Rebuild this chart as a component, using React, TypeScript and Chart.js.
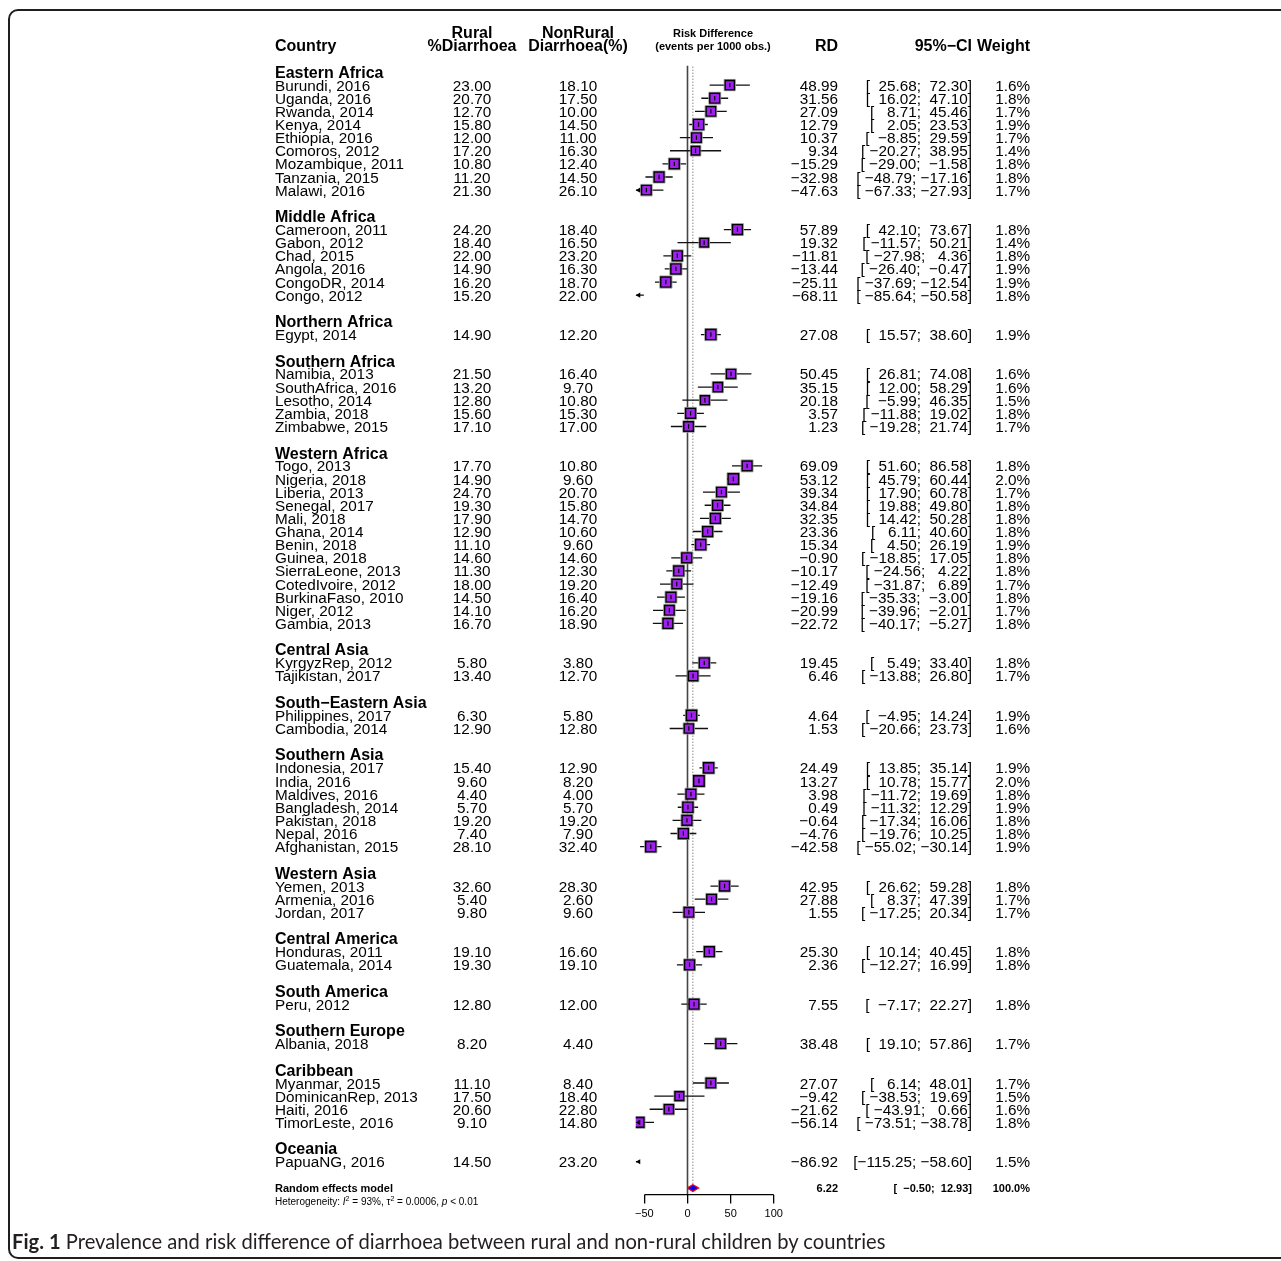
import React, { useEffect, useRef } from "react";
import { Chart, registerables } from "chart.js";

Chart.register(...registerables);

// ---------------- data ----------------
const groupNames = [
  "Eastern Africa", "Middle Africa", "Northern Africa", "Southern Africa", "Western Africa",
  "Central Asia", "South\u2212Eastern Asia", "Southern Asia", "Western Asia", "Central America",
  "South America", "Southern Europe", "Caribbean", "Oceania",
];
const groupSizes = [9, 6, 1, 5, 13, 2, 2, 7, 3, 2, 1, 1, 4, 1];

const studyLabels = [
  "Burundi, 2016", "Uganda, 2016", "Rwanda, 2014", "Kenya, 2014", "Ethiopia, 2016", "Comoros, 2012", "Mozambique, 2011", "Tanzania, 2015", "Malawi, 2016",
  "Cameroon, 2011", "Gabon, 2012", "Chad, 2015", "Angola, 2016", "CongoDR, 2014", "Congo, 2012",
  "Egypt, 2014",
  "Namibia, 2013", "SouthAfrica, 2016", "Lesotho, 2014", "Zambia, 2018", "Zimbabwe, 2015",
  "Togo, 2013", "Nigeria, 2018", "Liberia, 2013", "Senegal, 2017", "Mali, 2018", "Ghana, 2014", "Benin, 2018", "Guinea, 2018", "SierraLeone, 2013", "CotedIvoire, 2012", "BurkinaFaso, 2010", "Niger, 2012", "Gambia, 2013",
  "KyrgyzRep, 2012", "Tajikistan, 2017",
  "Philippines, 2017", "Cambodia, 2014",
  "Indonesia, 2017", "India, 2016", "Maldives, 2016", "Bangladesh, 2014", "Pakistan, 2018", "Nepal, 2016", "Afghanistan, 2015",
  "Yemen, 2013", "Armenia, 2016", "Jordan, 2017",
  "Honduras, 2011", "Guatemala, 2014",
  "Peru, 2012",
  "Albania, 2018",
  "Myanmar, 2015", "DominicanRep, 2013", "Haiti, 2016", "TimorLeste, 2016",
  "PapuaNG, 2016",
];

const ruralPct = [
  23.0, 20.7, 12.7, 15.8, 12.0, 17.2, 10.8, 11.2, 21.3,
  24.2, 18.4, 22.0, 14.9, 16.2, 15.2,
  14.9,
  21.5, 13.2, 12.8, 15.6, 17.1,
  17.7, 14.9, 24.7, 19.3, 17.9, 12.9, 11.1, 14.6, 11.3, 18.0, 14.5, 14.1, 16.7,
  5.8, 13.4,
  6.3, 12.9,
  15.4, 9.6, 4.4, 5.7, 19.2, 7.4, 28.1,
  32.6, 5.4, 9.8,
  19.1, 19.3,
  12.8,
  8.2,
  11.1, 17.5, 20.6, 9.1,
  14.5,
];

const nonRuralPct = [
  18.1, 17.5, 10.0, 14.5, 11.0, 16.3, 12.4, 14.5, 26.1,
  18.4, 16.5, 23.2, 16.3, 18.7, 22.0,
  12.2,
  16.4, 9.7, 10.8, 15.3, 17.0,
  10.8, 9.6, 20.7, 15.8, 14.7, 10.6, 9.6, 14.6, 12.3, 19.2, 16.4, 16.2, 18.9,
  3.8, 12.7,
  5.8, 12.8,
  12.9, 8.2, 4.0, 5.7, 19.2, 7.9, 32.4,
  28.3, 2.6, 9.6,
  16.6, 19.1,
  12.0,
  4.4,
  8.4, 18.4, 22.8, 14.8,
  23.2,
];

const riskDiff = [
  48.99, 31.56, 27.09, 12.79, 10.37, 9.34, -15.29, -32.98, -47.63,
  57.89, 19.32, -11.81, -13.44, -25.11, -68.11,
  27.08,
  50.45, 35.15, 20.18, 3.57, 1.23,
  69.09, 53.12, 39.34, 34.84, 32.35, 23.36, 15.34, -0.9, -10.17, -12.49, -19.16, -20.99, -22.72,
  19.45, 6.46,
  4.64, 1.53,
  24.49, 13.27, 3.98, 0.49, -0.64, -4.76, -42.58,
  42.95, 27.88, 1.55,
  25.3, 2.36,
  7.55,
  38.48,
  27.07, -9.42, -21.62, -56.14,
  -86.92,
];

const ciLower = [
  25.68, 16.02, 8.71, 2.05, -8.85, -20.27, -29.0, -48.79, -67.33,
  42.1, -11.57, -27.98, -26.4, -37.69, -85.64,
  15.57,
  26.81, 12.0, -5.99, -11.88, -19.28,
  51.6, 45.79, 17.9, 19.88, 14.42, 6.11, 4.5, -18.85, -24.56, -31.87, -35.33, -39.96, -40.17,
  5.49, -13.88,
  -4.95, -20.66,
  13.85, 10.78, -11.72, -11.32, -17.34, -19.76, -55.02,
  26.62, 8.37, -17.25,
  10.14, -12.27,
  -7.17,
  19.1,
  6.14, -38.53, -43.91, -73.51,
  -115.25,
];

const ciUpper = [
  72.3, 47.1, 45.46, 23.53, 29.59, 38.95, -1.58, -17.16, -27.93,
  73.67, 50.21, 4.36, -0.47, -12.54, -50.58,
  38.6,
  74.08, 58.29, 46.35, 19.02, 21.74,
  86.58, 60.44, 60.78, 49.8, 50.28, 40.6, 26.19, 17.05, 4.22, 6.89, -3.0, -2.01, -5.27,
  33.4, 26.8,
  14.24, 23.73,
  35.14, 15.77, 19.69, 12.29, 16.06, 10.25, -30.14,
  59.28, 47.39, 20.34,
  40.45, 16.99,
  22.27,
  57.86,
  48.01, 19.69, 0.66, -38.78,
  -58.6,
];

const weightPct = [
  1.6, 1.8, 1.7, 1.9, 1.7, 1.4, 1.8, 1.8, 1.7,
  1.8, 1.4, 1.8, 1.9, 1.9, 1.8,
  1.9,
  1.6, 1.6, 1.5, 1.8, 1.7,
  1.8, 2.0, 1.7, 1.8, 1.8, 1.8, 1.9, 1.8, 1.8, 1.7, 1.8, 1.7, 1.8,
  1.8, 1.7,
  1.9, 1.6,
  1.9, 2.0, 1.8, 1.9, 1.8, 1.8, 1.9,
  1.8, 1.7, 1.7,
  1.8, 1.8,
  1.8,
  1.7,
  1.7, 1.5, 1.6, 1.8,
  1.5,
];

const pooledRD = 6.22;
const pooledLower = -0.5;
const pooledUpper = 12.93;
const pooledWeight = 100.0;
const hetI2 = "93%";
const hetTau2 = "0.0006";
const hetP = "< 0.01";

const xTicks = [-50, 0, 50, 100];
const X_MIN = -60;
const X_MAX = 100;

// ---------------- layout helpers ----------------
const FONT = '"Liberation Sans", Arial, Helvetica, sans-serif';
const COL = { label: 267, rural: 464, nonRural: 570, riskHead: 705, rd: 830, ci: 964, weight: 1022 };
const ROW_FONT = 15.3;
const BOLD_FONT = 16;

const studyRows: number[] = [];
const groupRows: number[] = [];
let cursor = 0;
groupSizes.forEach((n) => {
  groupRows.push(cursor++);
  for (let i = 0; i < n; i++) studyRows.push(cursor++);
  cursor++;
});
const pooledRow = cursor;
const hetRow = cursor + 1;

const fmt2 = (v: number) => (v < 0 ? "\u2212" : "") + Math.abs(v).toFixed(2);
const fmtCI = (lo: number, hi: number) => "[" + fmt2(lo).padStart(7) + "; " + fmt2(hi).padStart(6) + "]";

const inRange = (v: number) => v >= X_MIN && v <= X_MAX;

const ciData: any[] = [];
riskDiff.forEach((_, i) => {
  const y = studyRows[i];
  const lo = Math.max(ciLower[i], X_MIN);
  const hi = Math.min(ciUpper[i], X_MAX);
  ciData.push({ x: lo, y }, { x: hi, y }, { x: hi, y: null });
});
const squareIdx = riskDiff.map((_, i) => i).filter((i) => inRange(riskDiff[i]));
const squareData = squareIdx.map((i) => ({ x: riskDiff[i], y: studyRows[i] }));
const squareRadius = squareIdx.map((i) => (8.4 * Math.sqrt(weightPct[i]) - 1.4) / Math.SQRT2);
const haloRadius = squareIdx.map((i) => (8.4 * Math.sqrt(weightPct[i]) + 0.6) / Math.SQRT2);

const DH = 0.26;
const diamondData = [
  { x: pooledLower, y: pooledRow },
  { x: pooledRD, y: pooledRow - DH },
  { x: pooledUpper, y: pooledRow },
  { x: pooledRD, y: pooledRow + DH },
  { x: pooledLower, y: pooledRow },
];

const forestPlugin = {
  id: "forestText",
  afterDatasetsDraw(chart: any) {
    const { ctx, scales } = chart;
    const x = scales.x;
    const y = scales.y;
    ctx.save();
    ctx.fillStyle = "#000";
    ctx.strokeStyle = "#000";
    ctx.lineWidth = 1.2;
    riskDiff.forEach((_, i) => {
      if (ciLower[i] < X_MIN) {
        const px = x.getPixelForValue(X_MIN);
        const py = y.getPixelForValue(studyRows[i]);
        ctx.beginPath();
        ctx.moveTo(px, py);
        ctx.lineTo(px + 4.5, py - 2.6);
        ctx.lineTo(px + 4.5, py + 2.6);
        ctx.closePath();
        ctx.fill();
      }
    });
    const ay = chart.chartArea.bottom;
    ctx.lineWidth = 1.3;
    ctx.beginPath();
    ctx.moveTo(x.getPixelForValue(xTicks[0]), ay);
    ctx.lineTo(x.getPixelForValue(xTicks[xTicks.length - 1]), ay);
    ctx.stroke();
    ctx.restore();
  },
  afterDraw(chart: any) {
    const { ctx, scales } = chart;
    const y = scales.y;
    ctx.save();
    ctx.fillStyle = "#000";
    ctx.textBaseline = "alphabetic";
    const put = (t: string, px: number, row: number, align: string, size: number, weight = "normal", style = "normal") => {
      ctx.font = `${style} ${weight} ${size}px ${FONT}`;
      ctx.textAlign = align;
      ctx.fillText(t, px, y.getPixelForValue(row) + size * 0.36);
    };
    put("Country", COL.label, -2, "left", BOLD_FONT, "bold");
    put("Rural", COL.rural, -3, "center", BOLD_FONT, "bold");
    put("%Diarrhoea", COL.rural, -2, "center", BOLD_FONT, "bold");
    put("NonRural", COL.nonRural, -3, "center", BOLD_FONT, "bold");
    put("Diarrhoea(%)", COL.nonRural, -2, "center", BOLD_FONT, "bold");
    put("Risk Difference", COL.riskHead, -3, "center", 11, "bold");
    put("(events per 1000 obs.)", COL.riskHead, -2, "center", 11, "bold");
    put("RD", COL.rd, -2, "right", BOLD_FONT, "bold");
    put("95%\u2212CI", COL.ci, -2, "right", BOLD_FONT, "bold");
    put("Weight", COL.weight, -2, "right", BOLD_FONT, "bold");
    groupNames.forEach((g, k) => put(g, COL.label, groupRows[k], "left", BOLD_FONT, "bold"));
    studyLabels.forEach((s, i) => {
      const r = studyRows[i];
      put(s, COL.label, r, "left", ROW_FONT);
      put(ruralPct[i].toFixed(2), COL.rural, r, "center", ROW_FONT);
      put(nonRuralPct[i].toFixed(2), COL.nonRural, r, "center", ROW_FONT);
      put(fmt2(riskDiff[i]), COL.rd, r, "right", ROW_FONT);
      put(fmtCI(ciLower[i], ciUpper[i]), COL.ci, r, "right", ROW_FONT);
      put(weightPct[i].toFixed(1) + "%", COL.weight, r, "right", ROW_FONT);
    });
    put("Random effects model", COL.label, pooledRow, "left", 11, "bold");
    put(fmt2(pooledRD), COL.rd, pooledRow, "right", 11, "bold");
    put(fmtCI(pooledLower, pooledUpper), COL.ci, pooledRow, "right", 11, "bold");
    put(pooledWeight.toFixed(1) + "%", COL.weight, pooledRow, "right", 11, "bold");
    let cx = COL.label;
    const base = y.getPixelForValue(hetRow) + 3.6;
    const seg = (t: string, font: string, dy = 0) => {
      ctx.font = font;
      ctx.textAlign = "left";
      ctx.fillText(t, cx, base + dy);
      cx += ctx.measureText(t).width;
    };
    const reg = `normal 10px ${FONT}`;
    const ita = `italic 10px ${FONT}`;
    const sup = `normal 7px ${FONT}`;
    seg("Heterogeneity: ", reg);
    seg("I", ita);
    seg("2", sup, -4);
    seg(" = " + hetI2 + ", ", reg);
    seg("\u03C4", reg);
    seg("2", sup, -4);
    seg(" = " + hetTau2 + ", ", reg);
    seg("p", ita);
    seg(" " + hetP, reg);
    ctx.restore();
  },
};

export default function App() {
  const ref = useRef<HTMLCanvasElement>(null);
  useEffect(() => {
    const chart = new Chart(ref.current as HTMLCanvasElement, {
      type: "scatter",
      data: {
        datasets: [
          {
            type: "scatter",
            label: "estimate mark",
            data: squareData,
            pointStyle: "line",
            rotation: 90,
            pointRadius: 2.2,
            borderColor: "#000",
            borderWidth: 1.2,
            order: 0,
          } as any,
          {
            type: "scatter",
            label: "estimate",
            data: squareData,
            pointStyle: "rect",
            pointRadius: squareRadius,
            backgroundColor: "#A020F0",
            borderColor: "#000",
            borderWidth: 1.4,
            order: 1,
          } as any,
          {
            type: "scatter",
            label: "estimate halo",
            data: squareData,
            pointStyle: "rect",
            pointRadius: haloRadius,
            backgroundColor: "rgba(0,0,0,0)",
            borderColor: "#9a9a9a",
            borderWidth: 1,
            order: 2,
          } as any,
          {
            type: "line",
            label: "pooled",
            data: diamondData,
            fill: "shape",
            backgroundColor: "#0000FF",
            borderColor: "#FF0000",
            borderWidth: 1.2,
            pointRadius: 0,
            tension: 0,
            order: 1,
          } as any,
          {
            type: "line",
            label: "95% CI",
            data: ciData,
            borderColor: "#111",
            borderWidth: 1.3,
            pointRadius: 0,
            spanGaps: false,
            tension: 0,
            order: 3,
          } as any,
          {
            type: "line",
            label: "no effect",
            data: [{ x: 0, y: -0.5 }, { x: 0, y: pooledRow + 0.5 }],
            borderColor: "#444",
            borderWidth: 1.6,
            pointRadius: 0,
            order: 4,
          } as any,
          {
            type: "line",
            label: "pooled line",
            data: [{ x: pooledRD, y: -0.4 }, { x: pooledRD, y: pooledRow - 0.3 }],
            borderColor: "#555",
            borderWidth: 1,
            borderDash: [1, 2],
            pointRadius: 0,
            order: 4,
          } as any,
        ],
      },
      options: {
        responsive: false,
        animation: false,
        devicePixelRatio: 1,
        events: [],
        layout: { autoPadding: false, padding: { left: 627.74, right: 499.23, top: 57.4, bottom: 13.4 } },
        plugins: { legend: { display: false }, tooltip: { enabled: false } },
        scales: {
          x: {
            type: "linear",
            position: "bottom",
            min: X_MIN,
            max: X_MAX,
            afterBuildTicks: (s: any) => {
              s.ticks = xTicks.map((v) => ({ value: v }));
            },
            afterFit: (s: any) => {
              s.height = 25;
              s.paddingLeft = 0;
              s.paddingRight = 0;
            },
            grid: { display: true, drawOnChartArea: false, drawTicks: true, tickLength: 9, color: "#000", lineWidth: 1.3 },
            border: { display: false },
            ticks: {
              autoSkip: false,
              maxRotation: 0,
              padding: 4,
              color: "#000",
              font: { family: FONT, size: 11 },
              callback: (v: any) => (v < 0 ? "\u2212" + Math.abs(v) : String(v)),
            },
          },
          y: { type: "linear", reverse: true, min: -0.5, max: pooledRow + 0.5, display: false },
        },
      } as any,
      plugins: [forestPlugin],
    });
    return () => chart.destroy();
  }, []);

  return (
    <div style={{ position: "relative", width: 1265, height: 1245 }}>
      <div
        style={{
          position: "fixed",
          left: 8,
          top: 9,
          width: 1400,
          height: 1250,
          border: "2px solid #1f1f1f",
          borderRadius: 10,
          boxSizing: "border-box",
          pointerEvents: "none",
        }}
      />
      <canvas ref={ref} width={1265} height={1225} style={{ position: "absolute", left: 0, top: 0 }} />
      <div
        style={{
          position: "absolute",
          left: 4,
          top: 1222,
          fontFamily: "Lato, 'Open Sans', sans-serif",
          fontSize: 20.2,
          lineHeight: "22px",
          whiteSpace: "nowrap",
          color: "#231f20",
        }}
      >
        <b>Fig. 1</b> Prevalence and risk difference of diarrhoea between rural and non-rural children by countries
      </div>
    </div>
  );
}
